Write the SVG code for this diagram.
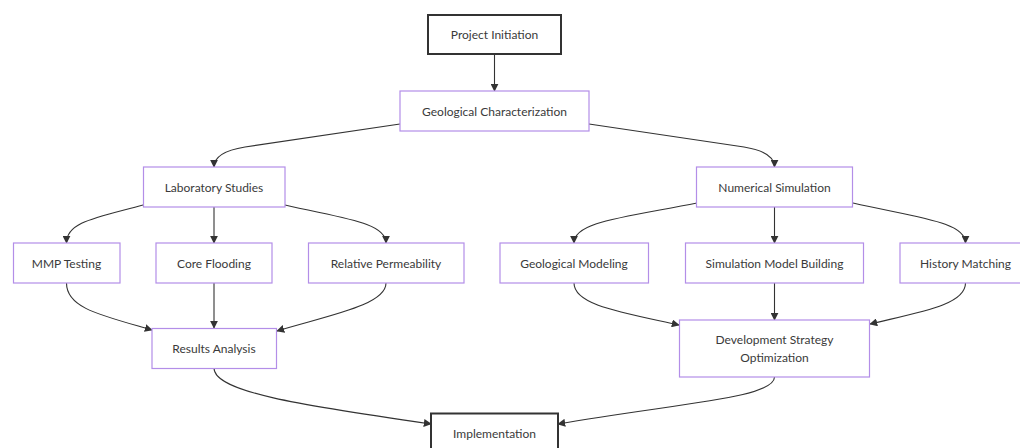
<svg xmlns="http://www.w3.org/2000/svg" width="1020" height="448" viewBox="0 0 1020 448">
<defs>
<style>
.n rect{fill:#ffffff;stroke:#b38ee8;stroke-width:1.2}
.n.k rect{stroke:#333333;stroke-width:2}
.n text{font-family:Lato,"Liberation Sans",Arial,sans-serif;font-size:12px;fill:#3a3a3a;text-anchor:middle;dominant-baseline:central}
.e path{fill:none;stroke:#333333;stroke-width:1.1}
</style>
<marker id="ah" viewBox="0 0 10 10" refX="9" refY="5" markerWidth="8" markerHeight="8" markerUnits="userSpaceOnUse" orient="auto">
<path d="M0,0 L10,5 L0,10 z" fill="#333333"/>
</marker>
</defs>
<rect x="0" y="0" width="1020" height="448" fill="#ffffff"/>
<g class="e">
<path d="M494.5,54 L494.5,91" marker-end="url(#ah)"/>
<path d="M400,124 L245,147 Q214,152 214,167" marker-end="url(#ah)"/>
<path d="M589,124 L744,147 Q774.5,152 774.5,167" marker-end="url(#ah)"/>
<path d="M143,205 C95,218 66.5,222 66.5,243" marker-end="url(#ah)"/>
<path d="M214,207 L214,243" marker-end="url(#ah)"/>
<path d="M285,205 C340,218 386,222 386,243" marker-end="url(#ah)"/>
<path d="M697,203 C620,218 574,222 574,243" marker-end="url(#ah)"/>
<path d="M774.5,207 L774.5,243" marker-end="url(#ah)"/>
<path d="M853,203 C920,218 965.5,222 965.5,243" marker-end="url(#ah)"/>
<path d="M66.5,283 C66.5,308 100,315 152,330" marker-end="url(#ah)"/>
<path d="M214,283 L214,328" marker-end="url(#ah)"/>
<path d="M386,283 C386,305 330,315 277,331" marker-end="url(#ah)"/>
<path d="M574,283 C574,305 620,312 679,325" marker-end="url(#ah)"/>
<path d="M774.5,283 L774.5,320" marker-end="url(#ah)"/>
<path d="M965.5,283 C965.5,305 920,312 870,324" marker-end="url(#ah)"/>
<path d="M214,368 C214,392 300,405 431,424" marker-end="url(#ah)"/>
<path d="M774.5,377 C774.5,398 680,403 558,424" marker-end="url(#ah)"/>
</g>
<g id="projectInitiation" class="n k"><rect x="428" y="15" width="133" height="39"/><text x="494.5" y="34.5">Project Initiation</text></g>
<g id="geologicalCharacterization" class="n"><rect x="400" y="91" width="189" height="40"/><text x="494.5" y="111">Geological Characterization</text></g>
<g id="laboratoryStudies" class="n"><rect x="143.5" y="167" width="141.5" height="40"/><text x="214" y="187">Laboratory Studies</text></g>
<g id="numericalSimulation" class="n"><rect x="696.5" y="167" width="156" height="40"/><text x="774.5" y="187">Numerical Simulation</text></g>
<g id="mmpTesting" class="n"><rect x="13.5" y="243" width="106.5" height="40"/><text x="66.5" y="263">MMP Testing</text></g>
<g id="coreFlooding" class="n"><rect x="156" y="243" width="116" height="40"/><text x="214" y="263">Core Flooding</text></g>
<g id="relativePermeability" class="n"><rect x="308.5" y="243" width="155.5" height="40"/><text x="386" y="263">Relative Permeability</text></g>
<g id="geologicalModeling" class="n"><rect x="500" y="243" width="148.5" height="40"/><text x="574" y="263">Geological Modeling</text></g>
<g id="simulationModelBuilding" class="n"><rect x="685.5" y="243" width="178" height="40"/><text x="774.5" y="263">Simulation Model Building</text></g>
<g id="historyMatching" class="n"><rect x="900" y="243" width="131" height="40"/><text x="965.5" y="263">History Matching</text></g>
<g id="resultsAnalysis" class="n"><rect x="152" y="328.5" width="124.5" height="40"/><text x="214" y="348.5">Results Analysis</text></g>
<g id="developmentStrategyOptimization" class="n"><rect x="679.5" y="320" width="190" height="57"/><text x="774.5" y="339.5">Development Strategy</text><text x="774.5" y="357">Optimization</text></g>
<g id="implementation" class="n k"><rect x="431" y="413.5" width="127" height="39"/><text x="494.5" y="433">Implementation</text></g>
</svg>
